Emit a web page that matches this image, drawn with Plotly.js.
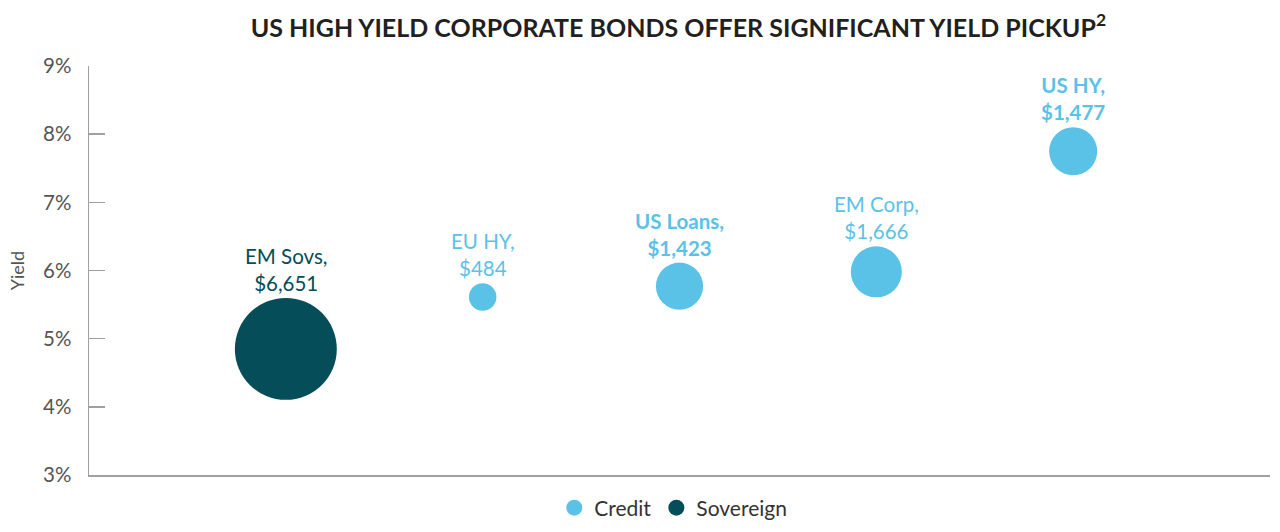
<!DOCTYPE html>
<html>
<head>
<meta charset="utf-8">
<script src="https://cdn.plot.ly/plotly-3.0.1.min.js"></script>
<style>html,body{margin:0;padding:0;background:#fff;}#chart{width:1280px;height:532px;}</style>
</head>
<body>
<div id="chart"></div>
<script>
// Data
const creditNames = ["EU HY", "US Loans", "EM Corp", "US HY"];
const creditX = [2, 3, 4, 5];
const creditYield = [5.61, 5.77, 5.98, 7.75];
const creditSize = [484, 1423, 1666, 1477];
const creditBold = [false, true, false, true];

const sovNames = ["EM Sovs"];
const sovX = [1];
const sovYield = [4.85];
const sovSize = [6651];
const sovBold = [false];

const yTicks = [3, 4, 5, 6, 7, 8, 9];
const yTickText = ["3%", "4%", "5%", "6%", "7%", "8%", "9%"];

const creditColor = "#5BC2E7";
const sovColor = "#054D58";
const sizeref = 1.28;
const FONT = "Lato, sans-serif";

function label(name, size, bold) {
  const s = name + ",<br>$" + size.toLocaleString("en-US");
  return bold ? "<b>" + s + "</b>" : s;
}
function radius(v) { return Math.sqrt(v / 2 / sizeref); }

const traces = [
  {
    type: "scatter", mode: "markers", name: "Credit",
    x: creditX, y: creditYield,
    marker: {size: creditSize, sizemode: "area", sizeref: sizeref, color: creditColor, opacity: 1, line: {width: 0}},
    hoverinfo: "none"
  },
  {
    type: "scatter", mode: "markers", name: "Sovereign",
    x: sovX, y: sovYield,
    marker: {size: sovSize, sizemode: "area", sizeref: sizeref, color: sovColor, opacity: 1, line: {width: 0}},
    hoverinfo: "none"
  }
];

function makeAnn(xs, ys, names, sizes, bolds, color) {
  return xs.map((x, i) => ({
    x: x, y: ys[i], xref: "x", yref: "y",
    text: label(names[i], sizes[i], bolds[i]),
    showarrow: false, xanchor: "center", yanchor: "bottom",
    yshift: radius(sizes[i]) + 1,
    font: {family: FONT, size: 20.5, color: color},
    align: "center"
  }));
}

const annotations = makeAnn(sovX, sovYield, sovNames, sovSize, sovBold, sovColor)
  .concat(makeAnn(creditX, creditYield, creditNames, creditSize, creditBold, creditColor));

const layout = {
  width: 1280, height: 532,
  margin: {l: 89, r: 10, t: 66, b: 57},
  paper_bgcolor: "#fff", plot_bgcolor: "#fff",
  font: {family: FONT, color: "#555"},
  title: {
    text: "<b>US HIGH YIELD CORPORATE BONDS OFFER SIGNIFICANT YIELD PICKUP<sup>2</sup></b>",
    font: {family: FONT, size: 25, color: "#231F20"},
    x: 0.53, xanchor: "center", xref: "container",
    y: 0.947, yanchor: "middle", yref: "container"
  },
  annotations: annotations,
  xaxis: {
    range: [0, 6], showticklabels: false, showgrid: false, zeroline: false,
    showline: true, linecolor: "#A0A0A0", linewidth: 2, ticks: "", fixedrange: true
  },
  yaxis: {
    range: [3, 9], tickvals: yTicks, ticktext: yTickText,
    showgrid: false, zeroline: false,
    showline: true, linecolor: "#A0A0A0", linewidth: 1.5,
    ticks: "inside", ticklen: 16, tickcolor: "#A0A0A0", tickwidth: 1.5,
    ticklabelstandoff: 12,
    tickfont: {family: FONT, size: 20.5, color: "#555"},
    title: {text: "Yield", font: {family: FONT, size: 18, color: "#555"}, standoff: 14}
  },
  showlegend: true,
  legend: {
    orientation: "h", x: 0.526, xanchor: "center", xref: "container",
    y: 0.045, yanchor: "middle", yref: "container",
    font: {family: FONT, size: 21, color: "#333"},
    itemsizing: "trace", traceorder: "normal"
  }
};

Plotly.newPlot("chart", traces, layout, {displayModeBar: false, staticPlot: true});
</script>
</body>
</html>
